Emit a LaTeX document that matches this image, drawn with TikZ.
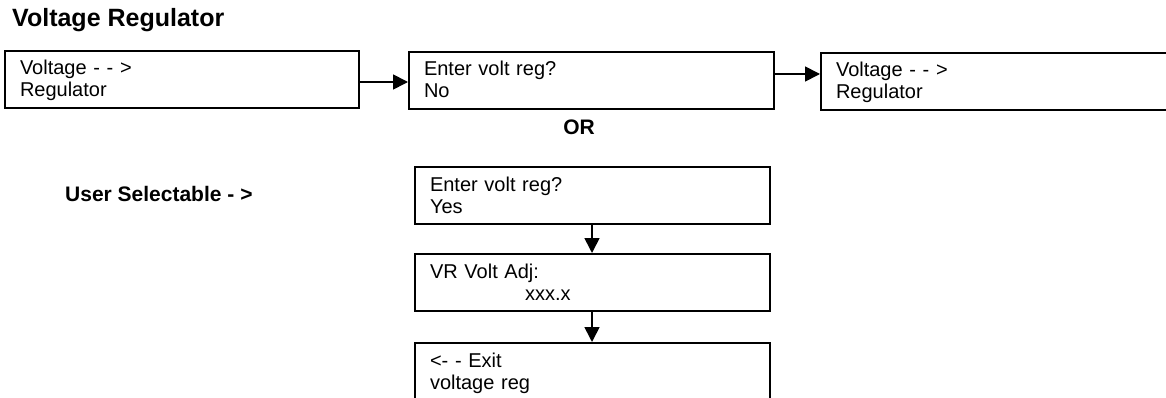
\documentclass[tikz,border=0pt]{standalone}
\usepackage{fontspec}
\setmainfont{Liberation Sans}
\usetikzlibrary{arrows.meta}
\begin{document}
\begin{tikzpicture}[x=1pt,y=-1pt,
  screen/.style={draw, line width=2pt, rectangle, anchor=north west, align=left,
    inner xsep=15pt, inner ysep=0pt, text height=24pt, text depth=33pt,
    font=\fontsize{20}{22}\selectfont},
  flow/.style={line width=1.7pt, -{Triangle[length=15pt,width=15pt]}},
  label/.style={font=\fontsize{21}{24}\selectfont\bfseries, inner sep=0pt}]
\useasboundingbox (0,0) rectangle (1166,398);
\clip (0,0) rectangle (1166,398);
\node[label, font=\fontsize{25}{28}\selectfont\bfseries, anchor=base west] (title) at (12,27) {Voltage Regulator};
\node[screen, text width=324pt] (b1) at (4,50) {Voltage - - >\\Regulator};
\node[screen, text width=335pt] (b2) at (408,51) {Enter volt reg?\\No};
\node[screen, text width=370pt] (b3) at (820,52) {Voltage - - >\\Regulator};
\node[label, anchor=base] (or) at (579,135) {OR};
\node[label, anchor=base west] (user) at (65,201) {User Selectable - >};
\node[screen, text width=325pt] (yes) at (414,166) {Enter volt reg?\\Yes};
\node[screen, text width=325pt] (vr) at (414,253) {VR Volt Adj:\\\hspace*{95pt}xxx.x};
\node[screen, text width=325pt, text depth=50pt] (ex) at (414,342) {<- - Exit\\voltage reg};
\draw[flow] (b1.east |- 0,82) -- (b2.west |- 0,82);
\draw[flow] (b2.east |- 0,74) -- (b3.west |- 0,74);
\draw[flow] (yes.south -| 592,0) -- (vr.north -| 592,0);
\draw[flow] (vr.south -| 592,0) -- (ex.north -| 592,0);
\end{tikzpicture}
\end{document}
